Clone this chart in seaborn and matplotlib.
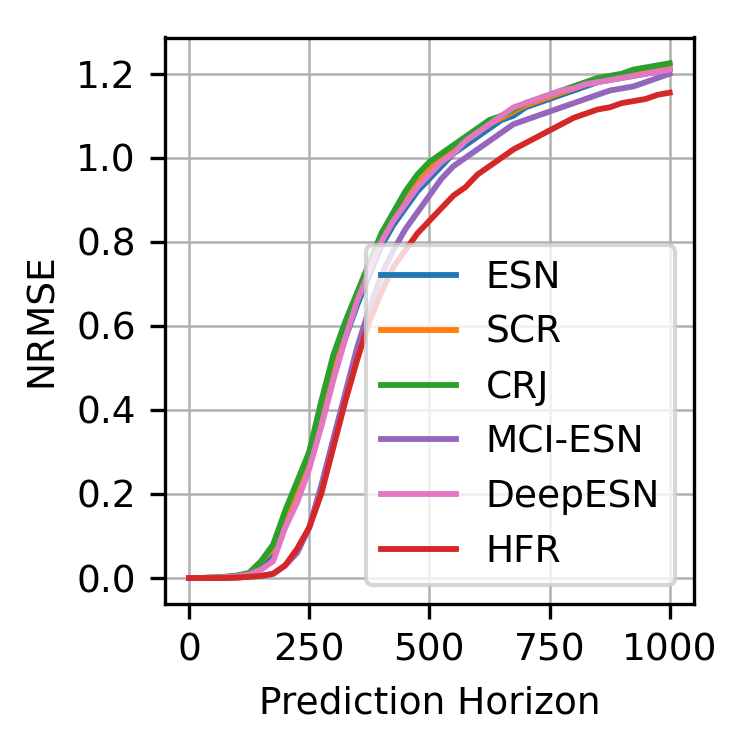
import matplotlib
matplotlib.use("Agg")
import matplotlib.pyplot as plt
import seaborn as sns
import pandas as pd
import numpy as np

x = list(range(0, 1001, 25))
esn = [0,0,0.001,0.002,0.005,0.01,0.03,0.06,0.13,0.2,0.28,0.38,0.48,0.57,0.65,0.72,0.79,0.84,0.88,0.92,0.95,0.98,1.01,1.03,1.05,1.07,1.09,1.10,1.12,1.13,1.14,1.15,1.16,1.17,1.18,1.185,1.19,1.195,1.20,1.205,1.21]
scr = [0,0,0.001,0.002,0.005,0.012,0.04,0.07,0.13,0.2,0.3,0.4,0.5,0.59,0.67,0.74,0.8,0.86,0.9,0.94,0.97,1.0,1.02,1.04,1.06,1.08,1.095,1.11,1.125,1.135,1.145,1.155,1.165,1.175,1.18,1.19,1.195,1.20,1.205,1.21,1.215]
crj = [0,0,0.001,0.003,0.006,0.012,0.04,0.08,0.16,0.23,0.3,0.42,0.53,0.61,0.68,0.75,0.82,0.87,0.92,0.96,0.99,1.01,1.03,1.05,1.07,1.09,1.10,1.115,1.13,1.14,1.15,1.16,1.17,1.18,1.19,1.195,1.20,1.21,1.215,1.22,1.225]
mci = [0,0,0,0,0.001,0.003,0.005,0.01,0.03,0.06,0.12,0.22,0.33,0.44,0.55,0.64,0.72,0.78,0.83,0.87,0.91,0.95,0.98,1.0,1.02,1.04,1.06,1.08,1.09,1.10,1.11,1.12,1.13,1.14,1.15,1.16,1.165,1.17,1.18,1.19,1.20]
deep = [0,0,0.001,0.002,0.004,0.008,0.02,0.04,0.12,0.18,0.26,0.36,0.47,0.57,0.66,0.73,0.8,0.85,0.89,0.93,0.96,0.99,1.01,1.04,1.06,1.08,1.10,1.12,1.13,1.14,1.15,1.16,1.165,1.175,1.18,1.185,1.19,1.195,1.20,1.205,1.21]
hfr = [0,0,0,0,0.001,0.003,0.005,0.01,0.03,0.07,0.12,0.2,0.31,0.42,0.52,0.61,0.68,0.74,0.78,0.82,0.85,0.88,0.91,0.93,0.96,0.98,1.0,1.02,1.035,1.05,1.065,1.08,1.095,1.105,1.115,1.12,1.13,1.135,1.14,1.15,1.155]
names = ["ESN","SCR","CRJ","MCI-ESN","DeepESN","HFR"]
series = [esn, scr, crj, mci, deep, hfr]
colors = ["#1f77b4","#ff7f0e","#2ca02c","#9467bd","#e377c2","#d62728"]

rows = []
for n, s in zip(names, series):
    for xi, yi in zip(x, s):
        rows.append((xi, yi, n))
df = pd.DataFrame(rows, columns=["h","v","m"])

plt.rcParams["font.size"] = 9
fig, ax = plt.subplots(figsize=(2.5, 2.5), dpi=300)
sns.lineplot(data=df, x="h", y="v", hue="m", palette=dict(zip(names, colors)), ax=ax, linewidth=1.4)
ax.grid(True, color="#b0b0b0", linewidth=0.6)
ax.set_xticks([0,250,500,750,1000])
ax.set_xlabel("Prediction Horizon")
ax.set_ylabel("NRMSE")
ax.legend(loc="lower right", fontsize=9, title=None)
fig.subplots_adjust(left=0.22, right=0.925, top=0.95, bottom=0.195)
fig.savefig("out.png")
